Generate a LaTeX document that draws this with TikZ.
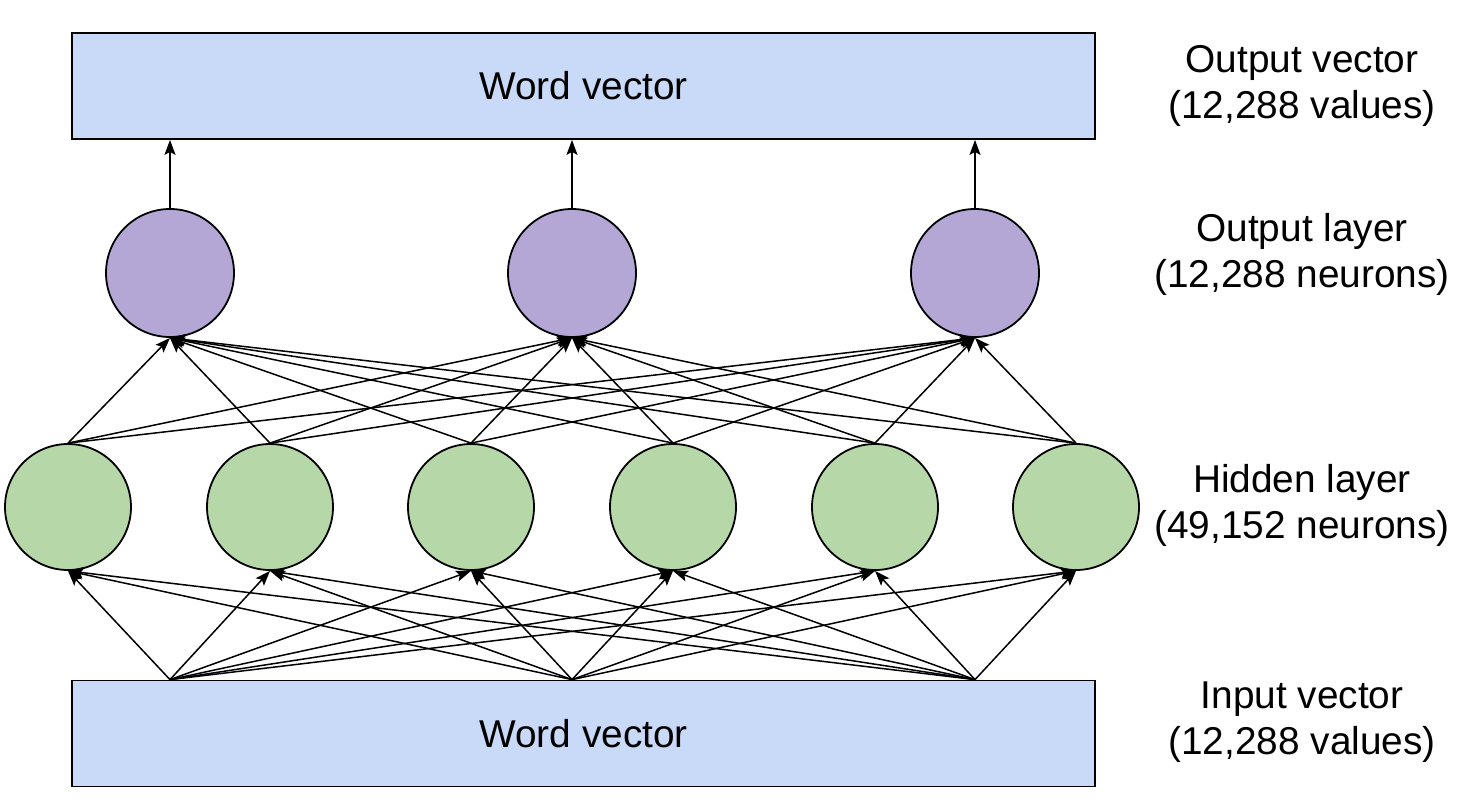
\documentclass[tikz,border=0pt]{standalone}
\usepackage{fontspec}
\setmainfont{Liberation Sans}
\usetikzlibrary{arrows.meta}

\definecolor{boxblue}{HTML}{C9DAF8}
\definecolor{outpurple}{HTML}{B4A7D6}
\definecolor{hidgreen}{HTML}{B6D7A8}

\tikzset{
    vecbox/.style={draw=black, line width=0.9pt, fill=boxblue, minimum width=511.5pt, minimum height=53pt, inner sep=0pt, font=\fontsize{19.4}{23}\selectfont},
    outneuron/.style={circle, draw=black, line width=0.9pt, fill=outpurple, minimum size=64pt, inner sep=0pt},
    hidneuron/.style={circle, draw=black, line width=0.9pt, fill=hidgreen, minimum size=63pt, inner sep=0pt},
    link/.style={-{Stealth[length=7.5pt,width=5.5pt,inset=1.5pt]}, line width=0.75pt},
    layerlabel/.style={align=center, font=\fontsize{19.4}{23}\selectfont}
}

\begin{document}
\begin{tikzpicture}[x=0.5pt,y=-0.5pt]
    \useasboundingbox (0,0) rectangle (1466,804);

    % Word vectors
    \node[vecbox] (wout) at (583.5,86) {Word vector};
    \node[vecbox] (win) at (583.5,733.5) {Word vector};

    % Output layer
    \node[outneuron] (o1) at (170,273) {};
    \node[outneuron] (o2) at (572,273) {};
    \node[outneuron] (o3) at (975,273) {};

    % Hidden layer
    \foreach \i/\x in {1/68,2/270,3/471,4/673,5/875,6/1076}
        \node[hidneuron] (h\i) at (\x,507) {};

    % Connections
    \foreach \j in {1,2,3} {
        \draw[link] (o\j.north) -- (o\j.north |- wout.south);
        \foreach \i in {1,...,6} {
            \draw[link] (win.north -| o\j) -- (h\i.south);
            \draw[link] (h\i.north) -- (o\j.south);
        }
    }

    % Labels
    \node[layerlabel] (lout) at (1302,86) {Output vector\\(12,288 values)};
    \node[layerlabel] (lol) at (1302,254) {Output layer\\(12,288 neurons)};
    \node[layerlabel] (lhl) at (1302,505) {Hidden layer\\(49,152 neurons)};
    \node[layerlabel] (lin) at (1302,722) {Input vector\\(12,288 values)};

\end{tikzpicture}
\end{document}
